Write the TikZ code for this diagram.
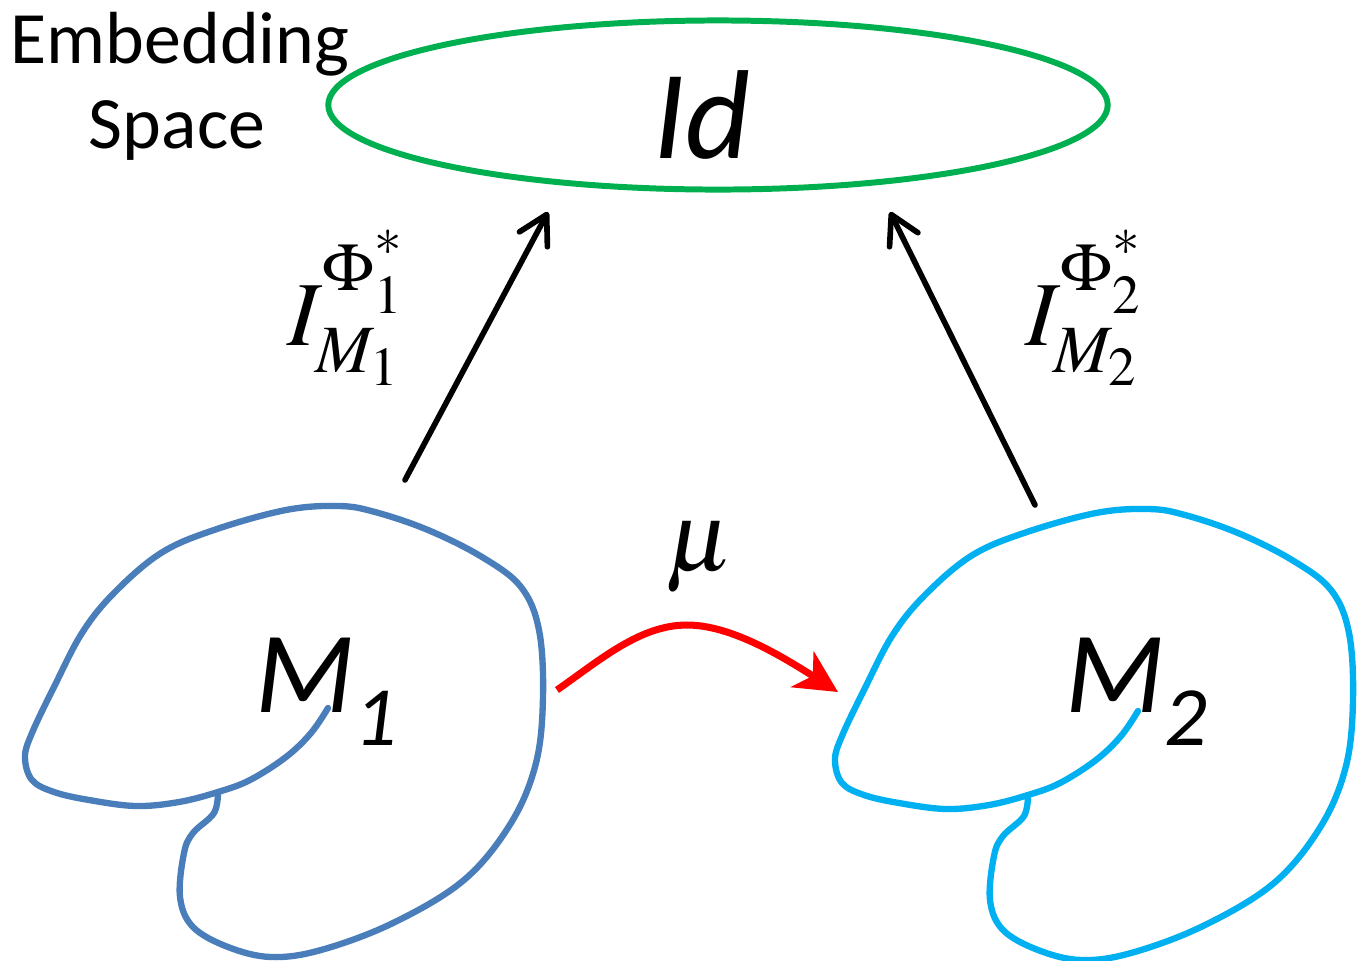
\documentclass[tikz,border=0pt]{standalone}
\usepackage{mathptmx}
\usepackage{fontspec}
\newfontfamily\carlito{Carlito}
\usetikzlibrary{arrows.meta,shapes.geometric}
\definecolor{mblue}{HTML}{4A7EBB}
\definecolor{mcyan}{HTML}{00B0F0}
\definecolor{egreen}{HTML}{00B050}
\definecolor{mured}{HTML}{FF0000}
\newcommand\upstar{\raisebox{3pt}{$\scriptscriptstyle *$}}
\tikzset{
  manifold/.pic={
    \draw[pic actions, line width=1.8pt, line join=round, line cap=round]
      plot[smooth, tension=0.6] coordinates {(218,792) (214,813) (193,833) (184,853) (180,897) (193,927) (228,947) (271,957) (321,950) (393,923) (464,880) (511,823) (536,763) (543,697) (539,630) (521,587) (482,557) (428,530) (375,512) (339,506) (286,510) (214,530) (161,553) (114,593) (82,633) (54,687) (32,733) (25,757) (32,780) (54,792) (89,800) (136,806) (179,802) (218,792) (250,780) (286,757) (311,733) (328,708)};
  },
  proj/.style={line width=1.6pt, line cap=round, -{Straight Barb[length=8pt,width=9pt,line cap=round,line join=round]}},
  mapping/.style={draw=mured, line width=2pt, -{Stealth[length=12pt,width=12pt,inset=3.5pt]}},
  sanslabel/.style={font=\carlito\fontsize{21}{24}\selectfont, anchor=base, inner sep=0pt},
  mathlabel/.style={inner sep=0pt, font=\fontsize{26}{30}\selectfont}
}
\begin{document}
\begin{tikzpicture}[x=0.01cm,y=-0.01cm]
\useasboundingbox (0,0) rectangle (1363,960);
% embedding space
\node[ellipse, draw=egreen, line width=1.7pt, minimum width=7.79cm, minimum height=1.69cm, inner sep=0pt] (embed) at (718,105) {};
\node[anchor=base, inner sep=0pt, font=\carlito\itshape\fontsize{36}{40}\selectfont] (idtext) at (702,158) {Id};
\node[sanslabel] (emb1) at (180,63) {Embedding};
\node[sanslabel] (emb2) at (177,148) {Space};
% manifolds
\pic[draw=mblue] at (0,0) {manifold};
\pic[draw=mcyan] at (810,3) {manifold};
\node[anchor=base, inner sep=0pt] (m1lab) at (326,712) {\carlito\itshape\fontsize{33}{36}\selectfont M\raisebox{-9.4pt}{\fontsize{24}{28}\selectfont 1}};
\node[anchor=base, inner sep=0pt] (m2lab) at (1136,712) {\carlito\itshape\fontsize{33}{36}\selectfont M\raisebox{-9.4pt}{\fontsize{24}{28}\selectfont 2}};
% projections
\coordinate (s1) at (405,480);
\coordinate (t1) at (548,212);
\coordinate (s2) at (1035,505);
\coordinate (t2) at (890,212);
\draw[proj] (s1) -- (t1);
\draw[proj] (s2) -- (t2);
\node[mathlabel, anchor=base west] (lab1) at (287,345) {$I^{\Phi_1^{\upstar}}_{\raisebox{-2pt}{$\scriptstyle M_1$}}$};
\node[mathlabel, anchor=base west] (lab2) at (1025,345) {$I^{\Phi_2^{\upstar}}_{\raisebox{-2pt}{$\scriptstyle M_2$}}$};
% map
\coordinate (r1) at (557,690);
\coordinate (r2) at (838,692);
\draw[mapping] (r1) .. controls (600,660) and (640,625) .. (687,625) .. controls (730,625) and (780,655) .. (r2);
\node[anchor=base, inner sep=0pt, font=\fontsize{28}{32}\selectfont] (mu) at (700,570) {$\mu$};
\end{tikzpicture}
\end{document}
